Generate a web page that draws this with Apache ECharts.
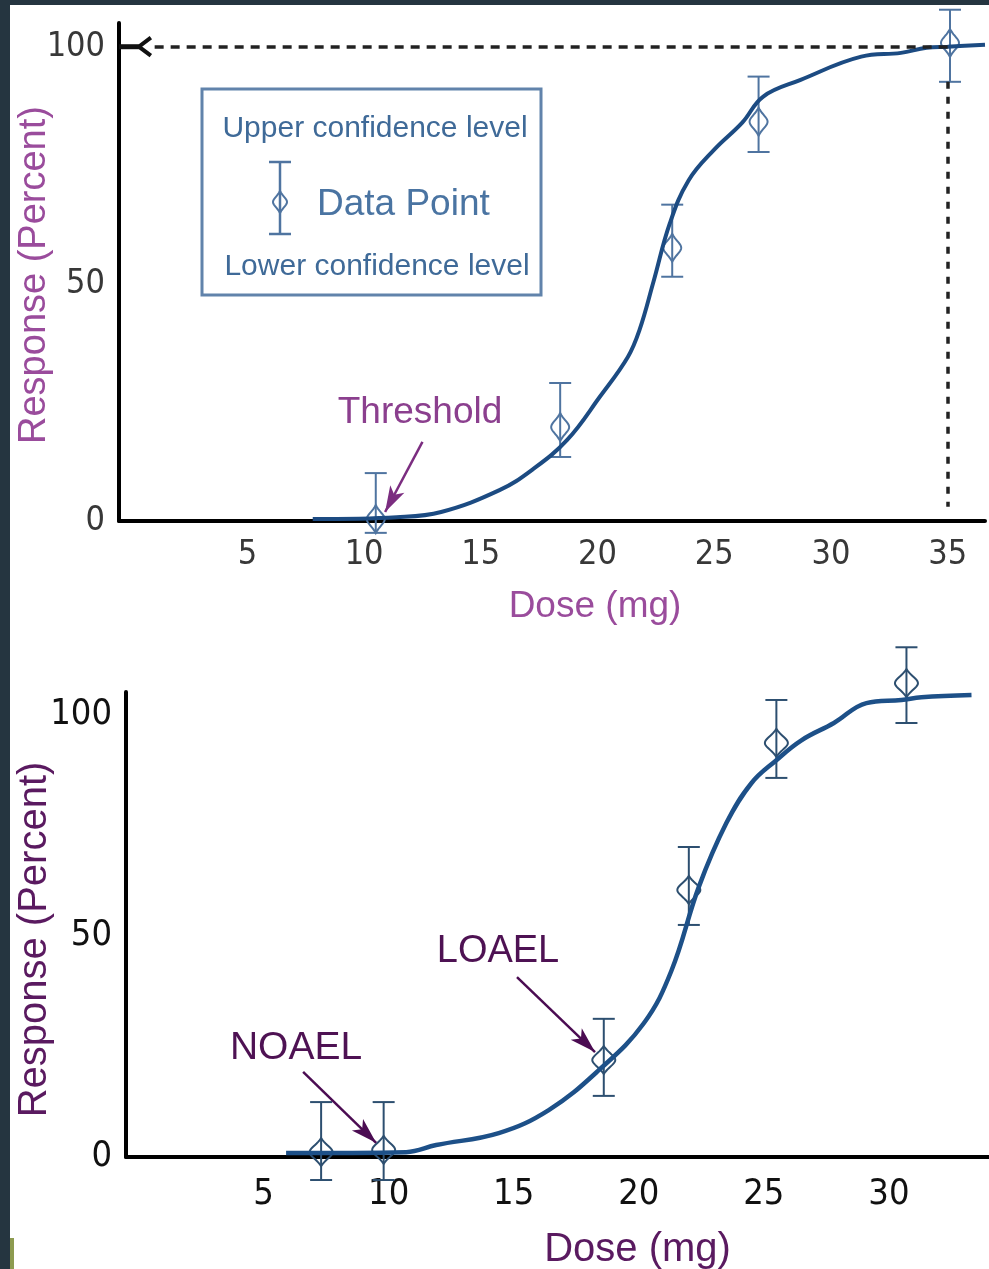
<!DOCTYPE html>
<html>
<head>
<meta charset="utf-8">
<script src="https://cdn.jsdelivr.net/npm/echarts@6/dist/echarts.min.js"></script>
<style>
  html, body { margin: 0; padding: 0; background: #ffffff; }
  #chart { width: 989px; height: 1269px; }
</style>
</head>
<body>
<div id="chart"></div>
<script>
// ---------- Data (top chart: Threshold) ----------
const curve1X = [7.8, 11.4, 13.3, 15.8, 17.2, 18.7, 20.1, 21.3, 21.8, 22.4, 23.1, 23.9, 25.0, 26.2, 27.1, 28.7, 31.3, 33.0, 34.1, 35.0, 36.6];
const curve1Y = [0.4, 0.8, 1.9, 6.5, 10.8, 17.1, 26.2, 34.6, 40.3, 50.5, 62.8, 71.8, 78.3, 84.0, 89.5, 93.0, 97.9, 98.7, 99.8, 100.0, 100.4];
const points1X = [10.5, 18.4, 23.2, 26.9, 35.1];
const points1Y = [0.4, 19.8, 57.6, 84.2, 100.8];
const lower1 = [-2.5, 13.5, 51.5, 77.8, 92.6];
const upper1 = [10.1, 29.1, 66.7, 93.7, 107.8];
const xTicks1 = [5, 10, 15, 20, 25, 30, 35];
const yTicks1 = [0, 50, 100];
const guideDose = 35;       // vertical dashed guide
const guideResponse = 100;  // horizontal dashed guide
const guideVertFrom = 92.6, guideVertTo = 3.0;
const thresholdArrow = [12.5, 16.7, 10.9, 1.9]; // from x,y -> to x,y

// ---------- Data (bottom chart: NOAEL / LOAEL) ----------
const curve2X = [5.9, 10.7, 11.9, 14.4, 16.4, 18.4, 20.2, 21.3, 22.4, 23.5, 24.5, 25.5, 26.5, 27.8, 29.1, 30.5, 31.3, 33.3];
const curve2Y = [0.9, 1.1, 2.7, 5.4, 10.6, 19.6, 30.2, 42.0, 61.0, 75.4, 84.4, 89.6, 94.1, 98.0, 102.5, 103.2, 103.8, 104.3];
const points2X = [7.3, 9.8, 18.6, 22.0, 25.5, 30.7];
const points2Y = [1.1, 1.6, 21.9, 60.3, 93.5, 107.0];
const lower2 = [-5.2, -5.2, 13.8, 52.4, 85.6, 98.0];
const upper2 = [12.4, 12.4, 31.2, 70.0, 103.2, 115.1];
const xTicks2 = [5, 10, 15, 20, 25, 30];
const yTicks2 = [0, 50, 100];
const noaelArrow = [6.58, 19.2, 9.5, 3.2];
const loaelArrow = [15.13, 40.6, 18.25, 23.7];

// ---------- Helpers ----------
const NARROW = "'Liberation Sans Narrow', 'DejaVu Sans Condensed', 'Liberation Sans', sans-serif";
const SANS = "'Liberation Sans', Arial, sans-serif";

// rounded-diamond marker outline (unit box 20 x 28) as cubic segments
const DIAMOND_SEGS = [
  [[10, 0], [14, 7], [20, 10], [20, 14]],
  [[20, 14], [20, 18], [14, 21], [10, 28]],
  [[10, 28], [6, 21], [0, 18], [0, 14]],
  [[0, 14], [0, 10], [6, 7], [10, 0]]
];
function diamondPoints(cx, cy, w, h) {
  const pts = [];
  DIAMOND_SEGS.forEach(function (s) {
    for (let k = 0; k < 10; k++) {
      const t = k / 10, u = 1 - t;
      const bx = u * u * u * s[0][0] + 3 * u * u * t * s[1][0] + 3 * u * t * t * s[2][0] + t * t * t * s[3][0];
      const by = u * u * u * s[0][1] + 3 * u * u * t * s[1][1] + 3 * u * t * t * s[2][1] + t * t * t * s[3][1];
      pts.push([cx + (bx / 20 - 0.5) * w, cy + (by / 28 - 0.5) * h]);
    }
  });
  return pts;
}

function zip(xs, ys) { return xs.map((x, i) => [x, ys[i]]); }

function errRender(color, capW, mw, mh) {
  return function (params, api) {
    const x = api.value(0), y = api.value(1), lo = api.value(2), hi = api.value(3);
    const c = api.coord([x, y]);
    const l = api.coord([x, lo]);
    const h = api.coord([x, hi]);
    const st = { stroke: color, lineWidth: 2, fill: 'none' };
    return {
      type: 'group',
      children: [
        { type: 'line', shape: { x1: l[0], y1: l[1], x2: h[0], y2: h[1] }, style: st },
        { type: 'line', shape: { x1: h[0] - capW / 2, y1: h[1], x2: h[0] + capW / 2, y2: h[1] }, style: st },
        { type: 'line', shape: { x1: l[0] - capW / 2, y1: l[1], x2: l[0] + capW / 2, y2: l[1] }, style: st },
        { type: 'polygon', shape: { points: diamondPoints(c[0], c[1], mw, mh) }, style: st }
      ]
    };
  };
}

function arrowLine(a, color) {
  return [
    { coord: [a[0], a[1]], symbol: 'none', lineStyle: { color: color, width: 2.5, type: 'solid' } },
    { coord: [a[2], a[3]], symbol: 'arrow', symbolSize: [12, 26], itemStyle: { color: color } }
  ];
}

const chart = echarts.init(document.getElementById('chart'), null, { renderer: 'canvas' });

const option = {
  animation: false,
  backgroundColor: '#ffffff',
  grid: [
    { left: 119, right: 4, top: 23, height: 498, containLabel: false, outerBoundsMode: 'none' },
    { left: 126, right: 0, top: 692, height: 465, containLabel: false, outerBoundsMode: 'none' }
  ],
  xAxis: [
    {
      gridIndex: 0, type: 'value', min: -0.5, max: 36.6,
      axisLine: { show: true, onZero: false, lineStyle: { color: '#000', width: 4 } },
      axisTick: { show: false }, splitLine: { show: false },
      axisLabel: { customValues: xTicks1, color: '#383838', fontFamily: NARROW, fontSize: 34, margin: 17 },
      name: 'Dose (mg)', nameLocation: 'middle', nameGap: 67, nameMoveOverlap: false,
      nameTextStyle: { color: '#9a4c9c', fontFamily: SANS, fontSize: 37, padding: [0, 0, 0, 86] }
    },
    {
      gridIndex: 1, type: 'value', min: -0.5, max: 34,
      axisLine: { show: true, onZero: false, lineStyle: { color: '#000', width: 4 } },
      axisTick: { show: false }, splitLine: { show: false },
      axisLabel: { customValues: xTicks2, color: '#111', fontFamily: NARROW, fontSize: 36, margin: 20 },
      name: 'Dose (mg)', nameLocation: 'middle', nameGap: 73, nameMoveOverlap: false,
      nameTextStyle: { color: '#5a1a60', fontFamily: SANS, fontSize: 40, padding: [0, 0, 0, 160] }
    }
  ],
  yAxis: [
    {
      gridIndex: 0, type: 'value', min: 0, max: 105,
      axisLine: { show: true, onZero: false, lineStyle: { color: '#000', width: 4 } },
      axisTick: { show: false }, splitLine: { show: false },
      axisLabel: { customValues: yTicks1, color: '#383838', fontFamily: NARROW, fontSize: 34, margin: 14 },
      name: 'Response (Percent)', nameLocation: 'middle', nameGap: 65, nameMoveOverlap: false,
      nameTextStyle: { color: '#9a4c9c', fontFamily: SANS, fontSize: 38, padding: [0, 6, 0, 0] }
    },
    {
      gridIndex: 1, type: 'value', min: 0, max: 105,
      axisLine: { show: true, onZero: false, lineStyle: { color: '#000', width: 4 } },
      axisTick: { show: false }, splitLine: { show: false },
      axisLabel: { customValues: yTicks2, color: '#111', fontFamily: NARROW, fontSize: 36, margin: 14 },
      name: 'Response (Percent)', nameLocation: 'middle', nameGap: 71, nameMoveOverlap: false,
      nameTextStyle: { color: '#5a1a60', fontFamily: SANS, fontSize: 40, padding: [0, 30, 0, 0] }
    }
  ],
  series: [
    {
      name: 'Confidence interval (top)', type: 'custom', xAxisIndex: 0, yAxisIndex: 0, clip: false, z: 2,
      renderItem: errRender('#4f74a0', 22, 18, 28),
      encode: { x: 0, y: [1, 2, 3] },
      data: points1X.map((x, i) => [x, points1Y[i], lower1[i], upper1[i]])
    },
    {
      name: 'Dose-response (top)', type: 'line', xAxisIndex: 0, yAxisIndex: 0, z: 3,
      data: zip(curve1X, curve1Y), showSymbol: false, smooth: 0.4,
      lineStyle: { color: '#1c4b82', width: 4 },
      markLine: {
        silent: true, animation: false, label: { show: false },
        symbol: ['none', 'none'],
        data: [
          [
            { coord: [guideDose, guideResponse], symbol: 'none', lineStyle: { color: '#222', width: 3.5, type: [9, 7] } },
            { coord: [0.9, guideResponse], symbol: 'none' }
          ],
          [
            { coord: [guideDose, guideVertFrom], symbol: 'none', lineStyle: { color: '#222', width: 3.5, type: [7, 8] } },
            { coord: [guideDose, guideVertTo], symbol: 'none' }
          ],
          arrowLine(thresholdArrow, '#7b2d80')
        ]
      }
    },
    {
      name: 'Confidence interval (bottom)', type: 'custom', xAxisIndex: 1, yAxisIndex: 1, clip: false, z: 2,
      renderItem: errRender('#2d4f70', 22, 23, 28),
      encode: { x: 0, y: [1, 2, 3] },
      data: points2X.map((x, i) => [x, points2Y[i], lower2[i], upper2[i]])
    },
    {
      name: 'Dose-response (bottom)', type: 'line', xAxisIndex: 1, yAxisIndex: 1, z: 3,
      data: zip(curve2X, curve2Y), showSymbol: false, smooth: 0.4,
      lineStyle: { color: '#1d5088', width: 4.5 },
      markLine: {
        silent: true, animation: false, label: { show: false },
        symbol: ['none', 'none'],
        data: [
          arrowLine(noaelArrow, '#4b0c52'),
          arrowLine(loaelArrow, '#4b0c52')
        ]
      }
    }
  ],
  graphic: [
    // dark frame fragments of the source picture
    { type: 'rect', id: 'frameLeft', shape: { x: 0, y: 0, width: 10, height: 1269 }, style: { fill: '#253540' }, z: 100 },
    { type: 'rect', id: 'frameTop', shape: { x: 0, y: 0, width: 989, height: 5 }, style: { fill: '#253540' }, z: 100 },
    { type: 'rect', id: 'greenBit', shape: { x: 10, y: 1238, width: 4, height: 31 }, style: { fill: '#8d9b50' }, z: 100 },
    // legend box (top chart)
    {
      type: 'group', id: 'legendBox', z: 50,
      children: [
        { type: 'rect', shape: { x: 202, y: 89, width: 339, height: 206 }, style: { fill: '#fff', stroke: '#6183ab', lineWidth: 3 } },
        { type: 'text', style: { x: 375, y: 129, text: 'Upper confidence level', font: "30px 'Liberation Sans', Arial, sans-serif", fill: '#3f6a98', align: 'center', verticalAlign: 'middle' } },
        { type: 'text', style: { x: 317, y: 205, text: 'Data Point', font: "37px 'Liberation Sans', Arial, sans-serif", fill: '#4a74a2', align: 'left', verticalAlign: 'middle' } },
        { type: 'text', style: { x: 377, y: 267, text: 'Lower confidence level', font: "30px 'Liberation Sans', Arial, sans-serif", fill: '#3f6a98', align: 'center', verticalAlign: 'middle' } },
        { type: 'line', shape: { x1: 280, y1: 162, x2: 280, y2: 234 }, style: { stroke: '#4f74a0', lineWidth: 2.5 } },
        { type: 'line', shape: { x1: 269, y1: 162, x2: 291, y2: 162 }, style: { stroke: '#4f74a0', lineWidth: 2.5 } },
        { type: 'line', shape: { x1: 269, y1: 234, x2: 291, y2: 234 }, style: { stroke: '#4f74a0', lineWidth: 2.5 } },
        { type: 'polygon', shape: { points: diamondPoints(280, 202, 14, 22) }, style: { stroke: '#4f74a0', lineWidth: 2, fill: 'none' } }
      ]
    },
    // annotations
    { type: 'text', id: 'thresholdText', z: 50, style: { x: 420, y: 413, text: 'Threshold', font: "37px 'Liberation Sans', Arial, sans-serif", fill: '#8b3f8e', align: 'center', verticalAlign: 'middle' } },
    { type: 'text', id: 'noaelText', z: 50, style: { x: 296, y: 1048, text: 'NOAEL', font: "39px 'Liberation Sans', Arial, sans-serif", fill: '#4e1253', align: 'center', verticalAlign: 'middle' } },
    { type: 'text', id: 'loaelText', z: 50, style: { x: 498, y: 952, text: 'LOAEL', font: "38px 'Liberation Sans', Arial, sans-serif", fill: '#4e1253', align: 'center', verticalAlign: 'middle' } }
  ]
};

chart.setOption(option);

// left-pointing chevron where the 100% guide meets the response axis
const tip = chart.convertToPixel({ gridIndex: 0 }, [0.35, guideResponse]);
const axisPt = chart.convertToPixel({ gridIndex: 0 }, [-0.5, guideResponse]);
chart.setOption({
  graphic: [
    { type: 'line', id: 'chevStem', z: 60, shape: { x1: axisPt[0], y1: axisPt[1], x2: tip[0], y2: tip[1] }, style: { stroke: '#111', lineWidth: 5 } },
    { type: 'polyline', id: 'chevHead', z: 60, shape: { points: [[tip[0] + 12, tip[1] - 9], [tip[0], tip[1]], [tip[0] + 12, tip[1] + 9]] }, style: { stroke: '#111', lineWidth: 4, fill: 'none' } }
  ]
});
</script>
</body>
</html>
